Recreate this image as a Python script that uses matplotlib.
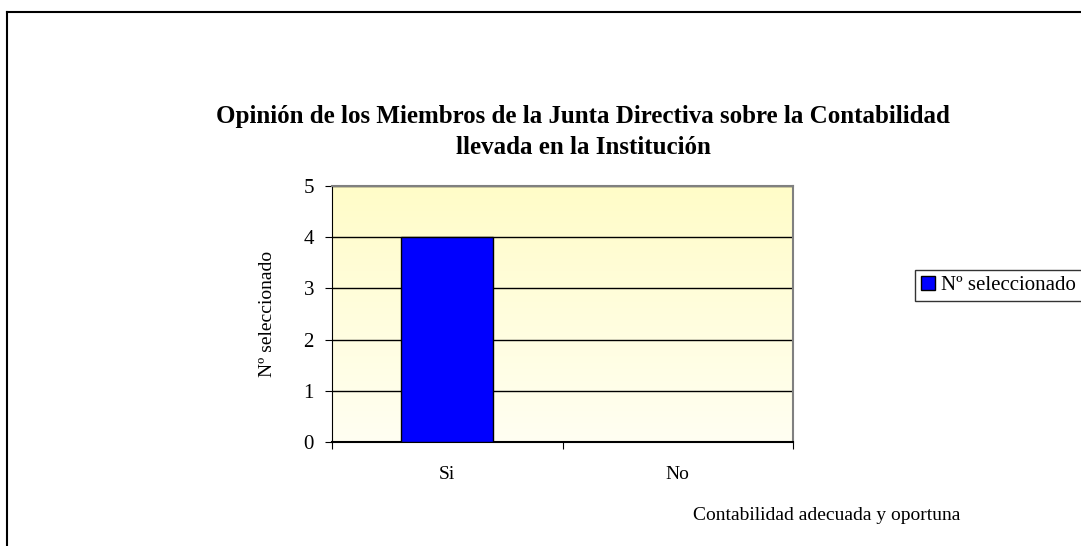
import matplotlib
matplotlib.use("Agg")
import matplotlib.pyplot as plt
import numpy as np
from matplotlib.colors import LinearSegmentedColormap

categories = ["Si", "No"]
values = [4, 0]
series_name = "Nº seleccionado"
title = "Opinión de los Miembros de la Junta Directiva sobre la Contabilidad\nllevada en la Institución"
xlabel = "Contabilidad adecuada y oportuna"
ylabel = "Nº seleccionado"
yticks = [0, 1, 2, 3, 4, 5]

plt.rcParams['font.family'] = ['Liberation Serif', 'DejaVu Serif']

W, H = 1081, 546
fig = plt.figure(figsize=(W/100, H/100), dpi=100)

# outer border (left & top visible)
fig.add_artist(plt.Line2D([7/W, 7/W], [0, 1 - 12/H], color='black', lw=1.5, transform=fig.transFigure))
fig.add_artist(plt.Line2D([7/W, 1], [1 - 12/H, 1 - 12/H], color='black', lw=1.5, transform=fig.transFigure))

left, right, top, bottom = 332, 793, 186, 442
ax = fig.add_axes([left/W, 1 - bottom/H, (right-left)/W, (bottom-top)/H])

# gradient background
grad = np.linspace(0, 1, 256).reshape(-1, 1)
cmap = LinearSegmentedColormap.from_list("bg", ["#FFFFF2", "#FFFCC8"])
ax.imshow(grad, aspect='auto', cmap=cmap, extent=[-0.5, 1.5, 0, 5], origin='lower', zorder=0)

x = np.arange(len(categories))
ax.bar(x, values, width=0.4, color='#0000FF', edgecolor='black', linewidth=1, zorder=3, label=series_name)

ax.set_xlim(-0.5, 1.5)
ax.set_ylim(0, 5)
ax.set_yticks(yticks)
ax.set_yticklabels([str(v) for v in yticks], fontsize=15)
ax.set_xticks([-0.5, 0.5, 1.5])
ax.set_xticklabels([])
ax.set_xticks(x, minor=True)
ax.set_xticklabels(categories, minor=True, fontsize=14)
ax.tick_params(axis='x', which='minor', length=0, pad=17)
ax.tick_params(axis='x', which='major', length=5, direction='out', color='black')
ax.tick_params(axis='y', length=5, direction='out', pad=8)
ax.grid(axis='y', color='black', lw=1, zorder=1)
for s in ['top', 'right']:
    ax.spines[s].set_color('#808080')
    ax.spines[s].set_linewidth(1.5)
ax.spines['left'].set_color('black')
ax.spines['bottom'].set_color('black')
ax.spines['bottom'].set_linewidth(1.5)

fig.text(583/W, 1 - 132/H, title, ha='center', va='center', fontsize=18, fontweight='bold', linespacing=1.45)
fig.text(268/W, 1 - 314/H, ylabel, rotation=90, ha='center', va='center', fontsize=14)
fig.text(827/W, 1 - 515/H, xlabel, ha='center', va='center', fontsize=14)

leg = fig.legend(loc='center left', bbox_to_anchor=(915/W, 1 - 285.5/H), fontsize=15,
                 frameon=True, fancybox=False, edgecolor='black', handlelength=0.65, handleheight=0.65,
                 handletextpad=0.3, borderpad=0.3, borderaxespad=0)
leg.get_frame().set_linewidth(1)

fig.savefig("out.png", dpi=100)
